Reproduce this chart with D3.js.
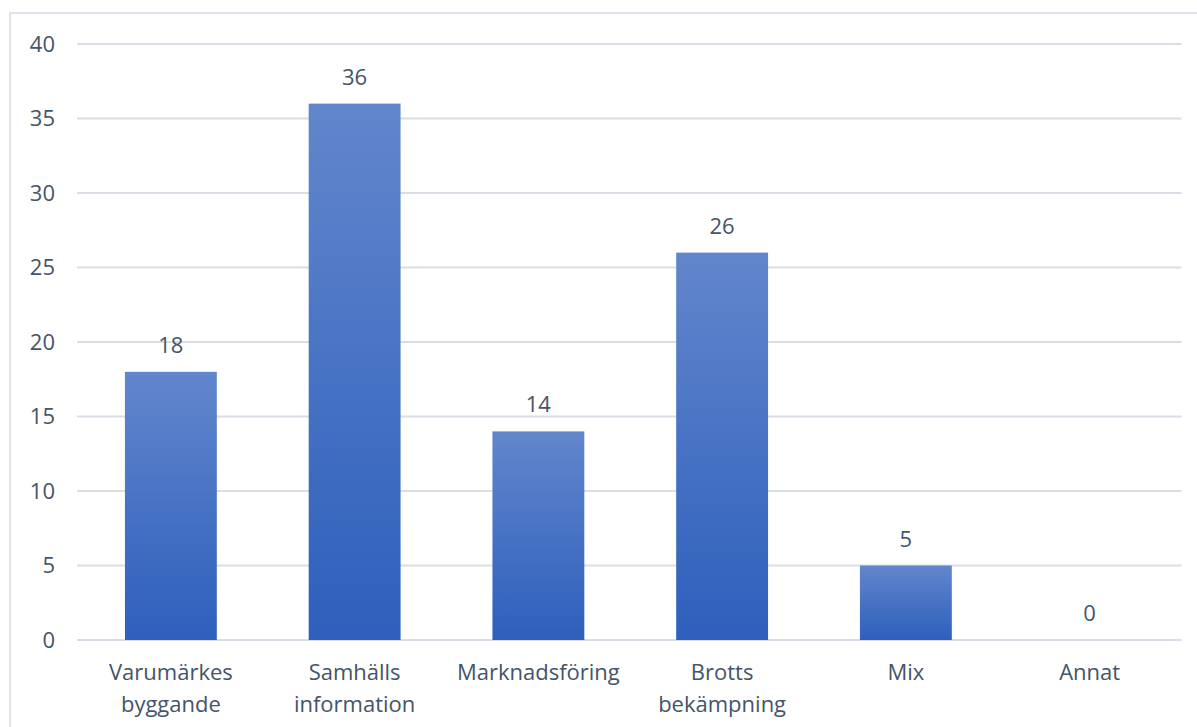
<!DOCTYPE html>
<html>
<head>
<meta charset="utf-8">
<script src="https://cdn.jsdelivr.net/npm/d3@7"></script>
<style>
  html, body { margin: 0; padding: 0; background: #fff; }
  svg { display: block; }
  text { font-family: "Open Sans", "Noto Sans", sans-serif; fill: #44546a; }
</style>
</head>
<body>
<svg id="chart" width="1197" height="727"></svg>
<script>
// Campaign purpose categories (two-line labels) and counts
const categories = [
  ["Varumärkes", "byggande"],
  ["Samhälls", "information"],
  ["Marknadsföring"],
  ["Brotts", "bekämpning"],
  ["Mix"],
  ["Annat"]
];
const values = [18, 36, 14, 26, 5, 0];
const yTicks = [0, 5, 10, 15, 20, 25, 30, 35, 40];

const svg = d3.select("#chart");
const W = 1197, H = 727;
const margin = { left: 79, right: 15.5, top: 44, bottom: 87 };
const gridLeft = 77;
const FONT = 22;

// Outer chart frame
svg.append("rect")
  .attr("x", 10).attr("y", 13)
  .attr("width", W + 20).attr("height", H + 20)
  .attr("fill", "#fff")
  .attr("stroke", "#dde1e9").attr("stroke-width", 2);

const x = d3.scaleBand()
  .domain(d3.range(categories.length))
  .range([margin.left, W - margin.right])
  .paddingInner(0.5).paddingOuter(0.25);

const y = d3.scaleLinear()
  .domain([0, 40])
  .range([H - margin.bottom, margin.top]);

// Vertical gradient for the bars
const defs = svg.append("defs");
const grad = defs.append("linearGradient")
  .attr("id", "barGrad")
  .attr("x1", 0).attr("y1", 0).attr("x2", 0).attr("y2", 1);
grad.append("stop").attr("offset", "0%").attr("stop-color", "#6286cc");
grad.append("stop").attr("offset", "100%").attr("stop-color", "#2d5fbc");

// Horizontal gridlines
svg.append("g")
  .selectAll("line")
  .data(yTicks)
  .join("line")
  .attr("x1", gridLeft).attr("x2", W - margin.right)
  .attr("y1", d => y(d)).attr("y2", d => y(d))
  .attr("stroke", "#d9dde6").attr("stroke-width", 2);

// Y axis labels
const yAxis = d3.axisLeft(y).tickValues(yTicks).tickSize(0).tickPadding(0);
const yg = svg.append("g")
  .attr("transform", `translate(${gridLeft - 22},0)`)
  .call(yAxis);
yg.select(".domain").remove();
yg.selectAll("text")
  .attr("font-size", FONT)
  .attr("fill", "#44546a")
  .style("font-family", "'Open Sans', 'Noto Sans', sans-serif");

// Bars
svg.append("g")
  .selectAll("rect")
  .data(values)
  .join("rect")
  .attr("x", (d, i) => x(i))
  .attr("y", d => y(d))
  .attr("width", x.bandwidth())
  .attr("height", d => y(0) - y(d))
  .attr("fill", "url(#barGrad)");

// Value labels above bars
svg.append("g")
  .selectAll("text")
  .data(values)
  .join("text")
  .attr("x", (d, i) => x(i) + x.bandwidth() / 2)
  .attr("y", d => y(d) - 19)
  .attr("text-anchor", "middle")
  .attr("font-size", FONT)
  .text(d => d);

// Category labels
const cat = svg.append("g")
  .selectAll("text")
  .data(categories)
  .join("text")
  .attr("x", (d, i) => x(i) + x.bandwidth() / 2)
  .attr("y", y(0) + 40)
  .attr("text-anchor", "middle")
  .attr("font-size", FONT);
cat.selectAll("tspan")
  .data(d => d)
  .join("tspan")
  .attr("x", function () { return d3.select(this.parentNode).attr("x"); })
  .attr("dy", (d, i) => i === 0 ? 0 : 32)
  .text(d => d);
</script>
</body>
</html>
